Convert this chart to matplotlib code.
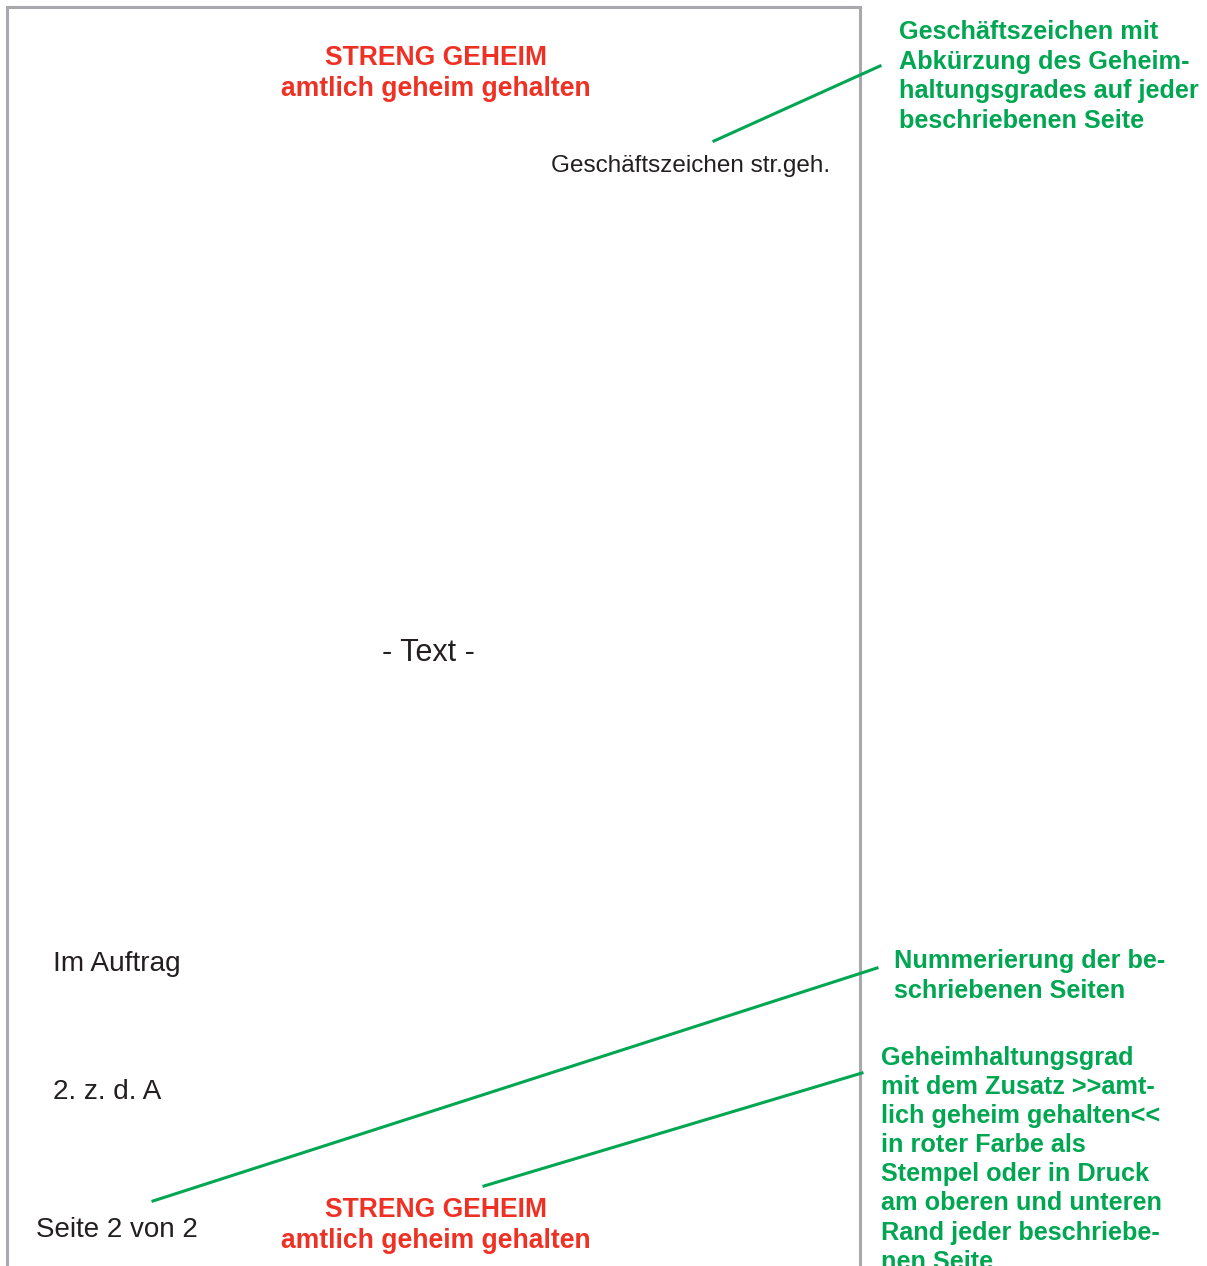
import matplotlib
matplotlib.use("Agg")
import matplotlib.pyplot as plt

# texts on the page
red_header = ["STRENG GEHEIM", "amtlich geheim gehalten"]
note_top = ["Geschäftszeichen mit", "Abkürzung des Geheim-",
            "haltungsgrades auf jeder", "beschriebenen Seite"]
note_mid = ["Nummerierung der be-", "schriebenen Seiten"]
note_bottom = ["Geheimhaltungsgrad", "mit dem Zusatz >>amt-",
               "lich geheim gehalten<<", "in roter Farbe als",
               "Stempel oder in Druck", "am oberen und unteren",
               "Rand jeder beschriebe-", "nen Seite"]

RED = "#ee3124"
GREEN = "#00a651"
GRAY = "#a7a9ac"
INK = "#231f20"
FONT = "Liberation Sans"

W, H = 1207, 1266
fig = plt.figure(figsize=(W / 100, H / 100), dpi=100)
ax = fig.add_axes([0, 0, 1, 1])
ax.set_xlim(0, W)
ax.set_ylim(H, 0)
ax.axis("off")

# page outline (bottom edge is cut off)
ax.plot([7, 7, 860, 860], [H + 10, 7, 7, H + 10], color=GRAY, lw=2.2,
        solid_joinstyle="miter")

def lines(items, x, y0, dy, **kw):
    for i, s in enumerate(items):
        ax.text(x, y0 + i * dy, s, va="center", family=FONT, **kw)

# red headers top and bottom
lines(red_header, 436, 58, 31, ha="center", color=RED, fontsize=19.1, fontweight="bold")
lines(red_header, 436, 1210, 31, ha="center", color=RED, fontsize=19.1, fontweight="bold")

# page content
ax.text(551, 166, "Geschäftszeichen str.geh.", va="center", family=FONT,
        fontsize=17.5, color=INK)
ax.text(428, 653, "- Text -", ha="center", va="center", family=FONT,
        fontsize=22, color=INK)
ax.text(53, 964, "Im Auftrag", va="center", family=FONT, fontsize=20.2, color=INK)
ax.text(53, 1092, "2. z. d. A", va="center", family=FONT, fontsize=20.2, color=INK)
ax.text(36, 1230, "Seite 2 von 2", va="center", family=FONT, fontsize=20, color=INK)

# annotations
lines(note_top, 899, 32, 29.6, ha="left", color=GREEN, fontsize=18.2, fontweight="bold")
lines(note_mid, 894, 961, 29.6, ha="left", color=GREEN, fontsize=18.2, fontweight="bold")
lines(note_bottom, 881, 1058, 29.1, ha="left", color=GREEN, fontsize=18.2, fontweight="bold")

ax.plot([714, 880], [141, 66], color=GREEN, lw=2.2)
ax.plot([153, 877], [1201, 968], color=GREEN, lw=2.2)
ax.plot([484, 862], [1186, 1073], color=GREEN, lw=2.2)

fig.savefig("out.png", dpi=100)
